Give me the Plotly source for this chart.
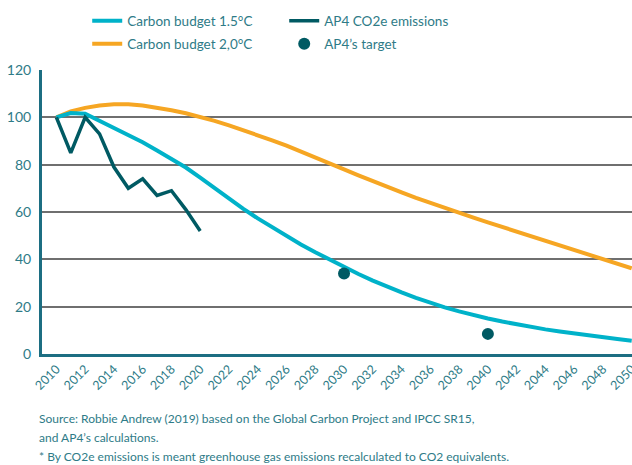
import plotly.graph_objects as go

years = list(range(2010, 2051))

budget_15 = [
    100, 101.8, 101.5, 98.5, 95.5, 92.5, 89.5, 86, 82.5, 78.8,
    74.5, 70, 65.5, 61.3, 57.3, 53.5, 49.8, 46.3, 43, 39.8,
    36.8, 33.8, 31, 28.4, 26, 23.7, 21.6, 19.7, 18, 16.4,
    15, 13.7, 12.5, 11.4, 10.4, 9.5, 8.6, 7.8, 7.0, 6.3, 5.6,
]
budget_20 = [
    100, 102.5, 104, 105, 105.5, 105.5, 105, 104.2, 103, 101.7,
    100.2, 98.5, 96.6, 94.6, 92.5, 90.3, 88, 85.6, 83.2, 80.7,
    78, 75.5, 73, 70.6, 68.3, 66, 63.8, 61.7, 59.6, 57.6,
    55.6, 53.7, 51.7, 49.8, 47.8, 45.9, 43.9, 41.9, 40, 38.1, 36.2,
]

emis_years = list(range(2010, 2021))
emissions = [100, 85, 100, 93, 79, 70, 74, 67, 69, 61, 52]

target_years = [2030, 2040]
targets = [34, 8.5]

tick_years = list(range(2010, 2051, 2))

CYAN = "#00B2C9"
ORANGE = "#F6A623"
DARK = "#005A63"
TEAL = "#2E7B87"
AXIS = "#1C6E82"
FONT = "Lato"

fig = go.Figure()

fig.add_trace(go.Scatter(
    x=years, y=budget_20, mode="lines", name="Carbon budget 2,0°C",
    line=dict(color=ORANGE, width=4), legend="legend2",
))
fig.add_trace(go.Scatter(
    x=years, y=budget_15, mode="lines", name="Carbon budget 1.5°C",
    line=dict(color=CYAN, width=4), legend="legend",
))
fig.add_trace(go.Scatter(
    x=emis_years, y=emissions, mode="lines", name="AP4 CO2e emissions",
    line=dict(color=DARK, width=3.5), legend="legend",
))
fig.add_trace(go.Scatter(
    x=target_years, y=targets, mode="markers", name="AP4’s target",
    marker=dict(color=DARK, size=12), legend="legend2",
))

# footnotes below the x axis (pixel rows converted to paper units)
notes = [
    "Source: Robbie Andrew (2019) based on the Global Carbon Project and IPCC SR15,",
    "and AP4’s calculations.",
    "* By CO2e emissions is meant greenhouse gas emissions recalculated to CO2 equivalents.",
]
note_rows = [418, 437, 456]
for txt, row in zip(notes, note_rows):
    fig.add_annotation(
        text=txt, xref="paper", yref="paper",
        x=-0.008, y=(354 - row) / 284,
        xanchor="left", yanchor="middle", showarrow=False,
        font=dict(family=FONT, size=12, color=TEAL),
    )

legend_style = dict(
    orientation="h", xref="container", yref="container",
    xanchor="left", yanchor="middle", entrywidth=152,
    font=dict(family=FONT, size=13.5, color=TEAL),
    bgcolor="rgba(0,0,0,0)", itemwidth=30, tracegroupgap=0,
)

fig.update_layout(
    width=632,
    height=465,
    margin=dict(l=42, r=0, t=70, b=111, autoexpand=False),
    plot_bgcolor="white",
    paper_bgcolor="white",
    font=dict(family=FONT, color=TEAL),
    showlegend=True,
    legend=dict(x=0.138, y=1 - 21 / 465, **legend_style),
    legend2=dict(x=0.138, y=1 - 44 / 465, **legend_style),
)

fig.update_xaxes(
    range=[2009.0, 2050.02],
    tickmode="array", tickvals=tick_years,
    ticktext=[str(y) for y in tick_years],
    tickangle=-45,
    tickfont=dict(family=FONT, size=12.5, color=TEAL),
    ticklabeloverflow="allow",
    showgrid=False, zeroline=False,
    showline=True, linecolor=AXIS, linewidth=3,
    ticks="", automargin=False,
)
fig.update_yaxes(
    range=[0, 120],
    tickvals=[0, 20, 40, 60, 80, 100, 120],
    tickfont=dict(family=FONT, size=14, color=TEAL),
    showgrid=True, gridcolor="#6f6f6f", gridwidth=1.5,
    zeroline=False,
    showline=True, linecolor=AXIS, linewidth=3,
    ticks="", ticklabelstandoff=5, automargin=False,
)

# drop the default page margin so the figure sits at the window's top-left
fig.write_html(
    "out.html",
    config={"displayModeBar": False},
    post_script="document.body.style.margin = '0';",
)
